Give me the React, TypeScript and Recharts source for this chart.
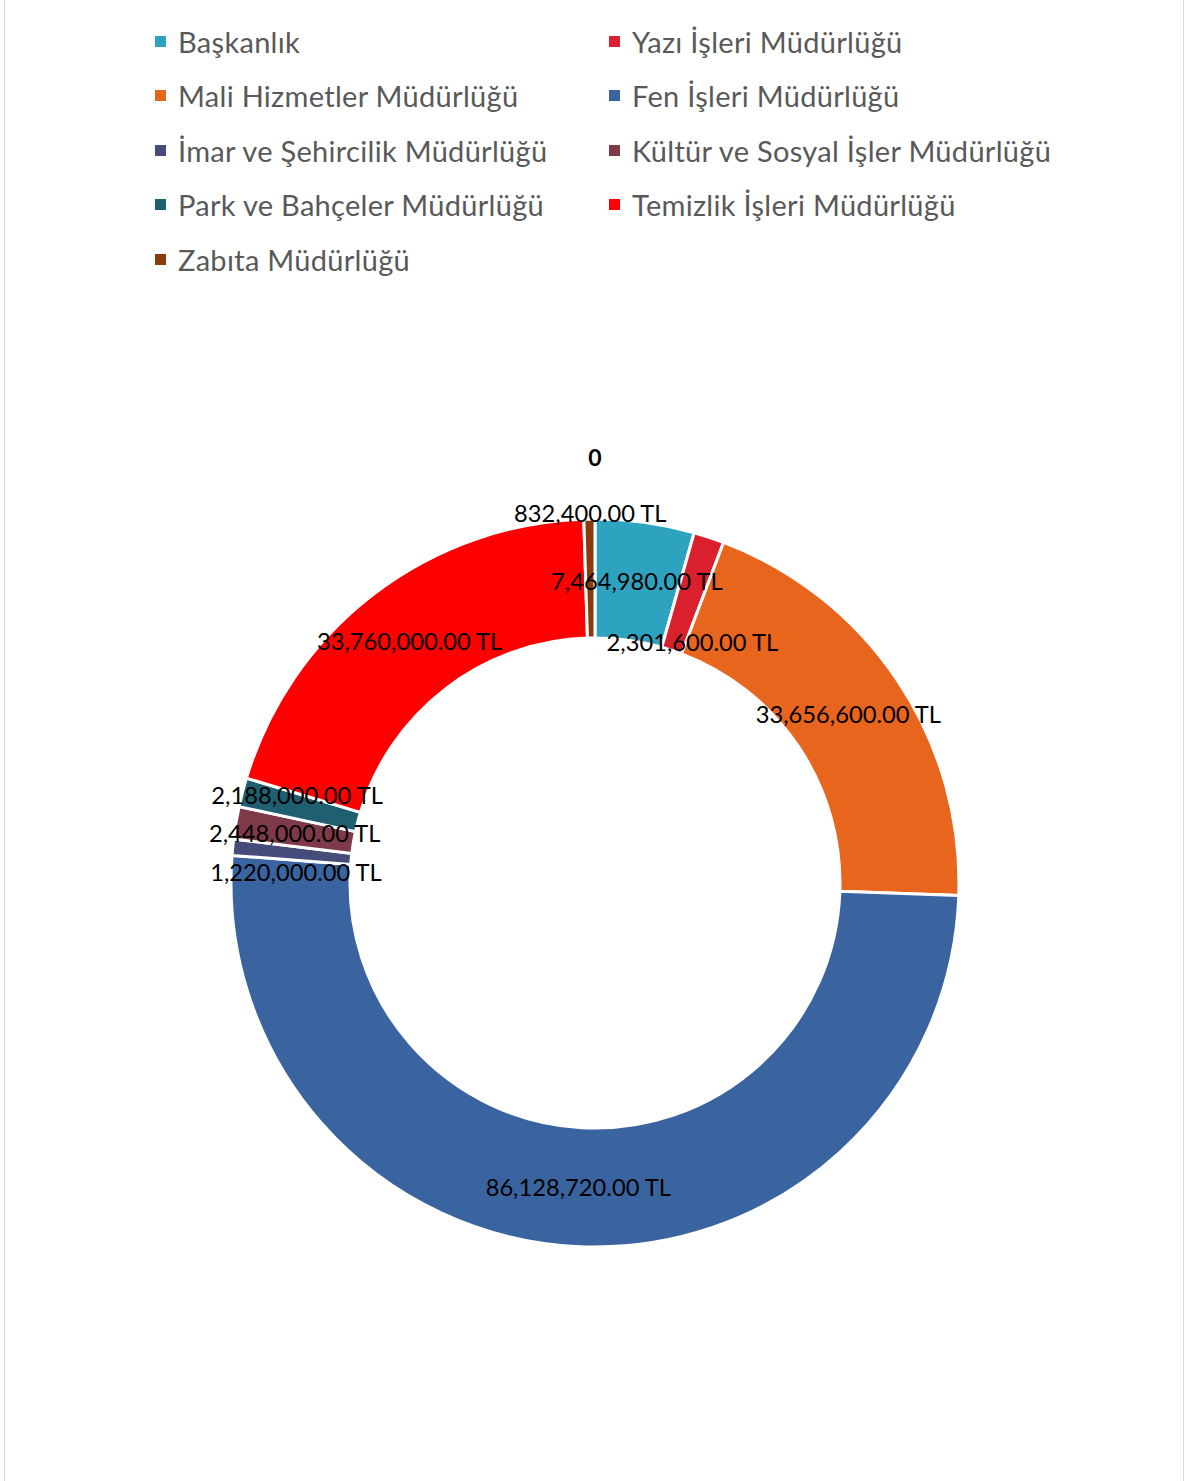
import { PieChart, Pie, Cell } from "recharts";

const categories = [
  "Başkanlık",
  "Yazı İşleri Müdürlüğü",
  "Mali Hizmetler Müdürlüğü",
  "Fen İşleri Müdürlüğü",
  "İmar ve Şehircilik Müdürlüğü",
  "Kültür ve Sosyal İşler Müdürlüğü",
  "Park ve Bahçeler Müdürlüğü",
  "Temizlik İşleri Müdürlüğü",
  "Zabıta Müdürlüğü",
];

const amounts = [
  7464980, 2301600, 33656600, 86128720, 1220000, 2448000, 2188000, 33760000,
  832400,
];

const colors = [
  "#2EA3BF",
  "#DA202D",
  "#E8651E",
  "#3A64A0",
  "#464B7A",
  "#7F3A4A",
  "#1E5F70",
  "#FF0000",
  "#8B3A0E",
];

const title = "0";

// small nudges so crowded labels don't sit on top of each other
const labelNudge: Record<number, { dx: number; dy: number }> = {
  1: { dx: 2, dy: 48 },
  4: { dx: 4, dy: 19 },
  6: { dx: -3, dy: -12 },
  8: { dx: 0, dy: -66 },
};

const data = categories.map((name, i) => ({ name, value: amounts[i] }));

const fmt = (v: number) =>
  v.toLocaleString("en-US", { minimumFractionDigits: 2, maximumFractionDigits: 2 }) + " TL";

const RAD = Math.PI / 180;

function renderLabel(props: any) {
  const { cx, cy, midAngle, innerRadius, outerRadius, index, value } = props;
  const r = (innerRadius + outerRadius) / 2;
  const n = labelNudge[index] || { dx: 0, dy: 0 };
  const x = cx + r * Math.cos(-midAngle * RAD) + n.dx;
  const y = cy + r * Math.sin(-midAngle * RAD) + n.dy;
  return (
    <text
      x={x}
      y={y}
      fill="#000"
      fontSize={23.7}
      fontFamily="Lato, sans-serif"
      textAnchor="middle"
      dominantBaseline="central"
    >
      {fmt(value)}
    </text>
  );
}

export default function App() {
  return (
    <div
      style={{
        position: "absolute",
        left: 0,
        top: 0,
        width: 1186,
        height: 1481,
        background: "#fff",
        fontFamily: "Lato, sans-serif",
      }}
    >
      <div
        style={{
          position: "absolute",
          left: 4,
          top: 0,
          width: 1178,
          height: 1481,
          borderLeft: "1px solid #D9D9D9",
          borderRight: "1px solid #D9D9D9",
        }}
      />
      <div
        style={{
          position: "absolute",
          left: 155,
          top: 14,
          display: "grid",
          gridTemplateColumns: "454px 454px",
          gridAutoRows: "54.5px",
        }}
      >
        {categories.map((c, i) => (
          <div key={c} style={{ display: "flex", alignItems: "center" }}>
            <span
              style={{
                width: 11,
                height: 11,
                background: colors[i],
                marginRight: 12,
                flex: "none",
              }}
            />
            <span
              style={{
                fontSize: 29,
                letterSpacing: 0.3,
                color: "#595959",
                whiteSpace: "nowrap",
              }}
            >
              {c}
            </span>
          </div>
        ))}
      </div>
      <div
        style={{
          position: "absolute",
          left: 545,
          width: 100,
          top: 443,
          textAlign: "center",
          fontSize: 23,
          fontWeight: "bold",
          color: "#000",
        }}
      >
        {title}
      </div>
      <div style={{ position: "absolute", left: 0, top: 0 }}>
        <PieChart width={1186} height={1481} margin={{ top: 0, right: 0, bottom: 0, left: 0 }}>
          <Pie
            data={data}
            dataKey="value"
            nameKey="name"
            cx={595}
            cy={883}
            innerRadius={245}
            outerRadius={364}
            startAngle={90}
            endAngle={-270}
            stroke="#fff"
            strokeWidth={3}
            label={renderLabel}
            labelLine={false}
            isAnimationActive={false}
          >
            {data.map((d, i) => (
              <Cell key={d.name} fill={colors[i]} />
            ))}
          </Pie>
        </PieChart>
      </div>
    </div>
  );
}
